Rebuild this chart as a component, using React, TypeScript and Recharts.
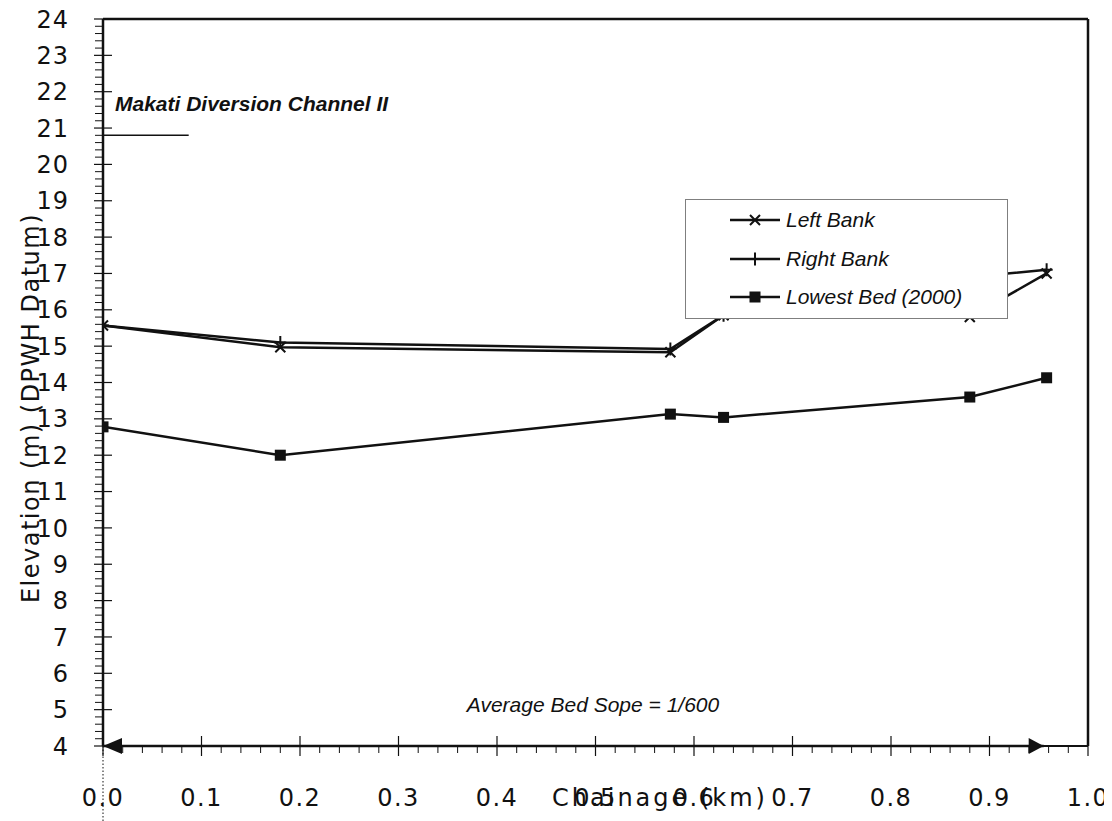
import { LineChart, Line, XAxis, YAxis, ReferenceLine, Legend } from "recharts";

// chainage (km) of each surveyed section
const chainage = [0, 0.18, 0.576, 0.63, 0.88, 0.958];
const leftBank = [15.57, 14.97, 14.83, 15.85, 15.8, 17.0];
const rightBank = [15.57, 15.1, 14.92, 15.85, 16.9, 17.1];
const lowestBed = [12.78, 12.0, 13.13, 13.04, 13.6, 14.13];

const yMajorTicks = [4, 5, 6, 7, 8, 9, 10, 11, 12, 13, 14, 15, 16, 17, 18, 19, 20, 21, 22, 23, 24];
const xMajorTicks = [0, 0.1, 0.2, 0.3, 0.4, 0.5, 0.6, 0.7, 0.8, 0.9, 1.0];
const MINOR_STEPS = 5;

const titleRule = [{ x: 0, y: 20.8 }, { x: 0.087, y: 20.8 }];
const slopeArrow = [{ x: 0, y: 4 }, { x: 0.955, y: 4 }];

const W = 1104;
const H = 813;
const PLOT_LEFT = 95;
const PLOT_BOTTOM = 738;
const INK = "#111";
const AXIS_FONT = "'DejaVu Sans', sans-serif";
const NOTE_FONT = "'Liberation Sans', Arial, sans-serif";

const rows = chainage.map((x, i) => ({ x, left: leftBank[i], right: rightBank[i], bed: lowestBed[i] }));

const withMinor = (majors: number[]) =>
  majors.flatMap((m, i) =>
    i === majors.length - 1
      ? [m]
      : Array.from({ length: MINOR_STEPS }, (_, k) => +(m + ((majors[i + 1] - m) * k) / MINOR_STEPS).toFixed(4))
  );

const yTicks = withMinor(yMajorTicks);
const xTicks = withMinor(xMajorTicks);

const isMajor = (v: number, step: number) => Math.abs(v / step - Math.round(v / step)) < 1e-6;

function YTick({ y, payload }: any) {
  const v = payload.value;
  if (!isMajor(v, 1)) {
    return <line x1={PLOT_LEFT - 8} x2={PLOT_LEFT} y1={y} y2={y} stroke={INK} strokeWidth={1} />;
  }
  return (
    <g>
      <line x1={PLOT_LEFT - 9} x2={PLOT_LEFT + 9} y1={y} y2={y} stroke={INK} strokeWidth={1.2} />
      <text x={PLOT_LEFT - 34} y={y} dy="0.36em" textAnchor="end" fontSize={24} fill={INK}
        style={{ fontFamily: AXIS_FONT, letterSpacing: 1 }}>
        {v}
      </text>
    </g>
  );
}

function XTick({ x, payload }: any) {
  const v = payload.value;
  if (!isMajor(v, 0.1)) {
    return <line x1={x} x2={x} y1={PLOT_BOTTOM} y2={PLOT_BOTTOM + 7} stroke={INK} strokeWidth={1} />;
  }
  return (
    <g>
      <line x1={x} x2={x} y1={PLOT_BOTTOM - 10} y2={PLOT_BOTTOM + 10} stroke={INK} strokeWidth={1.2} />
      <text x={x} y={PLOT_BOTTOM + 51} dy="0.36em" textAnchor="middle" fontSize={24} fill={INK}
        style={{ fontFamily: AXIS_FONT, letterSpacing: 1.5 }}>
        {v.toFixed(1)}
      </text>
    </g>
  );
}

const Cross = ({ cx, cy }: any) => (
  <path d={`M${cx - 5},${cy - 5}L${cx + 5},${cy + 5}M${cx - 5},${cy + 5}L${cx + 5},${cy - 5}`}
    stroke={INK} strokeWidth={2} fill="none" />
);
const Plus = ({ cx, cy }: any) => (
  <path d={`M${cx - 6},${cy}L${cx + 6},${cy}M${cx},${cy - 6.5}L${cx},${cy + 6.5}`}
    stroke={INK} strokeWidth={2} fill="none" />
);
const Square = ({ cx, cy }: any) => <rect x={cx - 5.5} y={cy - 5.5} width={11} height={11} fill={INK} />;

function SlopeArrow({ x1, y1, x2, y2 }: any) {
  return (
    <g>
      <line x1={x1} y1={y1} x2={x2} y2={y2} stroke={INK} strokeWidth={2.5} />
      <path d={`M${x1},${y1}L${x1 + 19},${y1 - 8}L${x1 + 19},${y1 + 8}Z`} fill={INK} />
      <path d={`M${x2},${y2}L${x2 - 15},${y2 - 8}L${x2 - 15},${y2 + 8}Z`} fill={INK} />
      <line x1={x1} y1={y1} x2={x1} y2={y1 + 90} stroke={INK} strokeWidth={1} strokeDasharray="1.5 2" />
    </g>
  );
}

const legendItems = [
  { label: "Left Bank", Marker: Cross },
  { label: "Right Bank", Marker: Plus },
  { label: "Lowest Bed (2000)", Marker: Square },
];

function LegendBox() {
  return (
    <div style={{ position: "relative", width: 321, height: 118, border: "1px solid #7f7f7f", background: "#fff" }}>
      {legendItems.map(({ label, Marker }, i) => (
        <div key={label} style={{ position: "absolute", left: 43, top: 20 + i * 38.5 - 11, height: 22, display: "flex", alignItems: "center" }}>
          <svg width={52} height={22}>
            <line x1={1} x2={51} y1={11} y2={11} stroke={INK} strokeWidth={2.5} />
            <Marker cx={26} cy={11} />
          </svg>
          <span style={{ marginLeft: 5, fontFamily: NOTE_FONT, fontStyle: "italic", fontSize: 21, color: INK, whiteSpace: "nowrap" }}>
            {label}
          </span>
        </div>
      ))}
    </div>
  );
}

export default function App() {
  return (
    <div style={{ position: "relative", width: W, height: H }}>
      <LineChart width={W} height={H} data={rows} margin={{ top: 11, right: 24, left: 0, bottom: 0 }}>
        <XAxis dataKey="x" type="number" domain={[0, 1]} ticks={xTicks} interval={0} height={75}
          tickLine={false} axisLine={{ stroke: INK, strokeWidth: 2 }} tick={<XTick />} allowDataOverflow />
        <YAxis type="number" domain={[4, 24]} ticks={yTicks} interval={0} width={95}
          tickLine={false} axisLine={{ stroke: INK, strokeWidth: 2.5 }} tick={<YTick />} allowDataOverflow />
        <ReferenceLine y={24} stroke={INK} strokeWidth={2.5} />
        <ReferenceLine x={1} stroke={INK} strokeWidth={2.5} />
        <ReferenceLine segment={titleRule} stroke={INK} strokeWidth={1.5} />
        <ReferenceLine segment={slopeArrow} shape={<SlopeArrow />} />
        <Line dataKey="bed" name="Lowest Bed (2000)" stroke={INK} strokeWidth={2.5} dot={<Square />} isAnimationActive={false} />
        <Line dataKey="right" name="Right Bank" stroke={INK} strokeWidth={2.5} dot={<Plus />} isAnimationActive={false} />
        <Line dataKey="left" name="Left Bank" stroke={INK} strokeWidth={2.5} dot={<Cross />} isAnimationActive={false} />
        <Legend content={<LegendBox />} layout="vertical" align="center" verticalAlign="middle"
          wrapperStyle={{ position: "absolute", left: 677, top: 191, width: 323, height: 120, bottom: "auto" }} />
      </LineChart>
      <svg width={W} height={H} style={{ position: "absolute", left: 0, top: 0, pointerEvents: "none" }}>
        <text x={107} y={103} fontSize={21} fontWeight="bold" fontStyle="italic" fill={INK} style={{ fontFamily: NOTE_FONT }}>
          Makati Diversion Channel II
        </text>
        <text x={585} y={704} fontSize={21} fontStyle="italic" textAnchor="middle" fill={INK} style={{ fontFamily: NOTE_FONT }}>
          Average Bed Sope = 1/600
        </text>
        <text x={652} y={789} dy="0.36em" fontSize={24} textAnchor="middle" fill={INK} style={{ fontFamily: AXIS_FONT, letterSpacing: 3 }}>
          Chainage (km)
        </text>
        <text transform="translate(22,400) rotate(-90)" fontSize={24} textAnchor="middle" dy="0.36em" fill={INK}
          style={{ fontFamily: AXIS_FONT, letterSpacing: 1.5 }}>
          Elevation (m) (DPWH Datum)
        </text>
      </svg>
    </div>
  );
}
